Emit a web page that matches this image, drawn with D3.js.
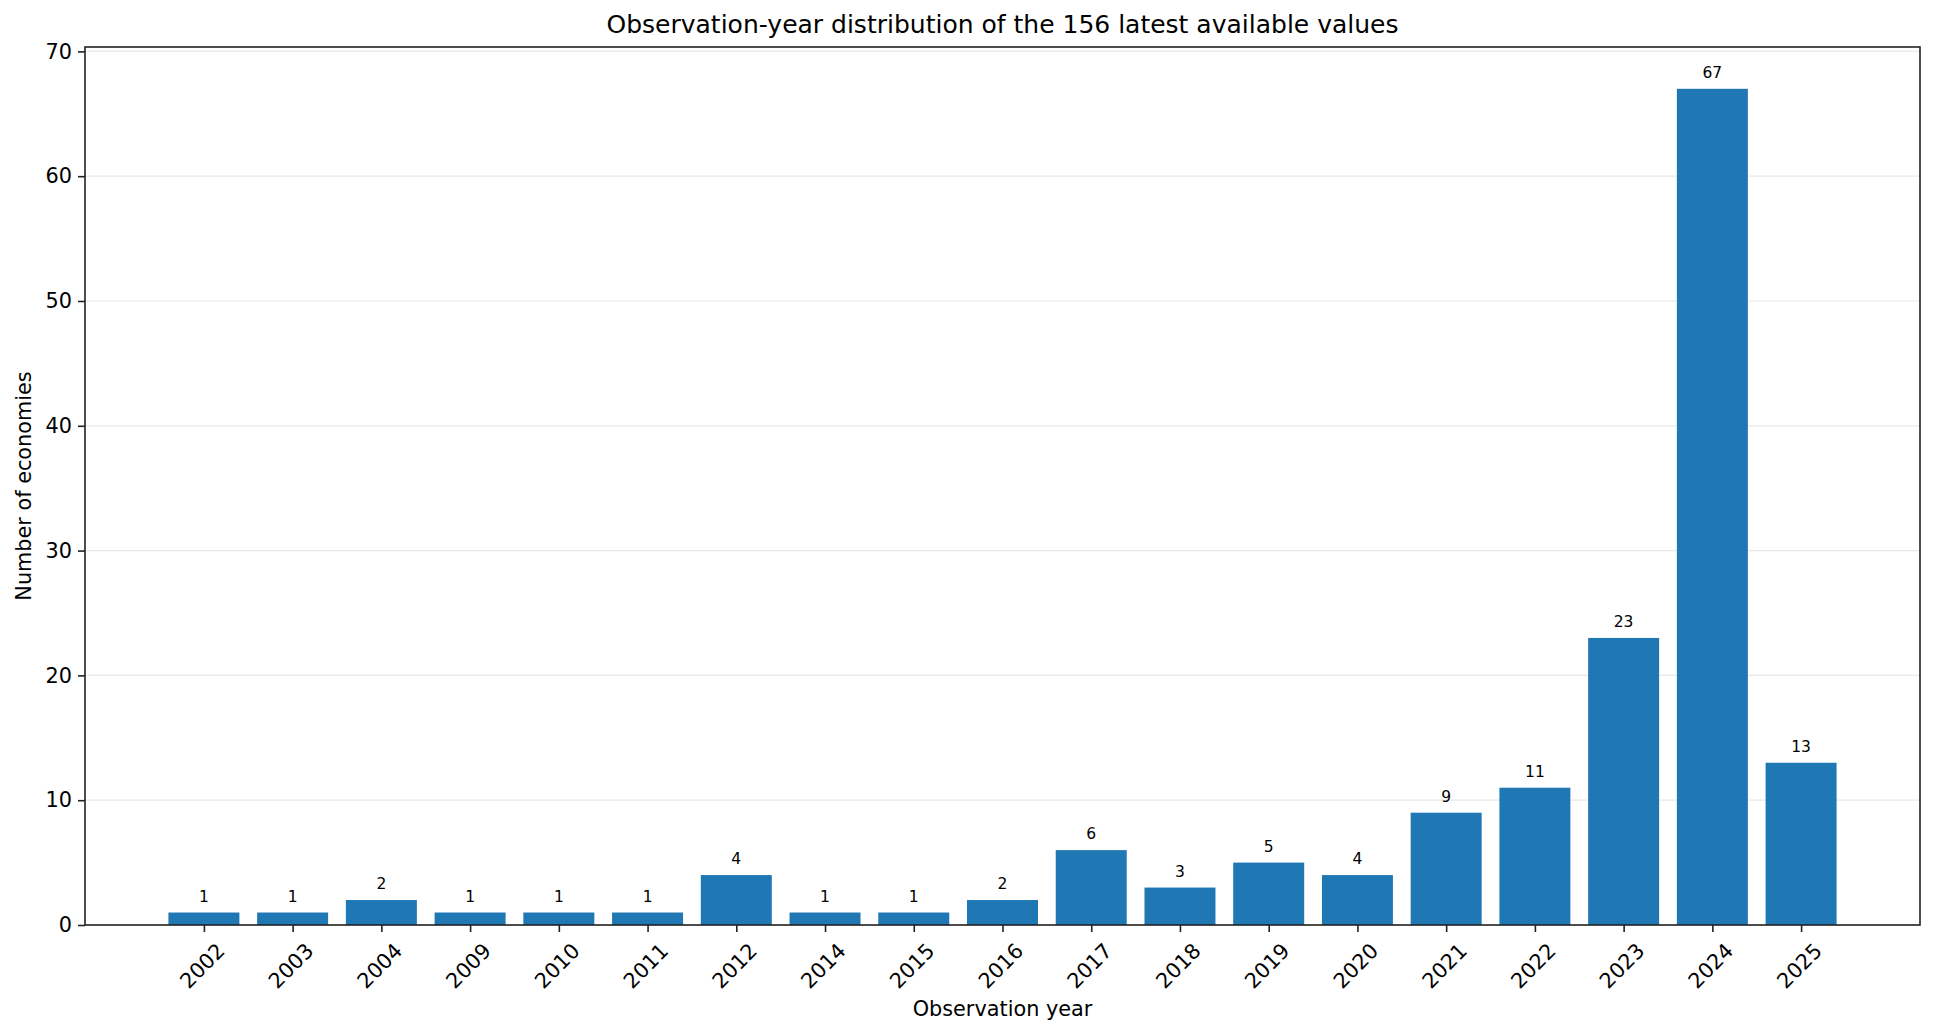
<!DOCTYPE html>
<html>
<head>
<meta charset="utf-8">
<script src="https://cdn.jsdelivr.net/npm/d3@7"></script>
<style>
  body { margin: 0; background: #fff; }
  text { font-family: "DejaVu Sans", sans-serif; fill: #000; }
</style>
</head>
<body>
<div id="chart"></div>
<script>
// data
const years = ["2002", "2003", "2004", "2009", "2010", "2011", "2012", "2014", "2015", "2016",
  "2017", "2018", "2019", "2020", "2021", "2022", "2023", "2024", "2025"];
const counts = [1, 1, 2, 1, 1, 1, 4, 1, 1, 2, 6, 3, 5, 4, 9, 11, 23, 67, 13];
const yTicks = [0, 10, 20, 30, 40, 50, 60, 70];

const svgWidth = 1935;
const svgHeight = 1035;
const margin = { top: 47, right: 15, bottom: 110, left: 85 };
const width = svgWidth - margin.left - margin.right;
const height = svgHeight - margin.top - margin.bottom;

const svg = d3.select("#chart")
  .append("svg")
  .attr("width", svgWidth)
  .attr("height", svgHeight);

const chartGroup = svg.append("g")
  .attr("transform", `translate(${margin.left}, ${margin.top})`);

// matplotlib-like x limits: bars of width 0.8 plus 5% margin
const n = years.length;
const span = (n - 1) + 0.8;
const xLinear = d3.scaleLinear()
  .domain([-0.4 - span * 0.05, n - 1 + 0.4 + span * 0.05])
  .range([0, width]);

const yLinear = d3.scaleLinear()
  .domain([0, d3.max(counts) * 1.05])
  .range([height, 0]);

// grid
chartGroup.append("g")
  .selectAll("line")
  .data(yTicks)
  .enter()
  .append("line")
  .attr("x1", 0)
  .attr("x2", width)
  .attr("y1", d => yLinear(d))
  .attr("y2", d => yLinear(d))
  .attr("stroke", "#e8e8e8")
  .attr("stroke-width", 1.2);

// bars
chartGroup.append("g")
  .selectAll("rect")
  .data(counts)
  .enter()
  .append("rect")
  .attr("x", (d, i) => xLinear(i - 0.4))
  .attr("width", xLinear(0.8) - xLinear(0))
  .attr("y", d => yLinear(d))
  .attr("height", d => height - yLinear(d))
  .attr("fill", "#1f77b4");

// value labels
chartGroup.append("g")
  .selectAll("text")
  .data(counts)
  .enter()
  .append("text")
  .attr("x", (d, i) => xLinear(i))
  .attr("y", d => yLinear(d) - 11)
  .attr("text-anchor", "middle")
  .style("font-size", "15.5px")
  .text(d => d);

// axes
const leftAxis = d3.axisLeft(yLinear)
  .tickValues(yTicks)
  .tickSize(7)
  .tickPadding(6);

const bottomAxis = d3.axisBottom(xLinear)
  .tickValues(d3.range(n))
  .tickFormat(i => years[i])
  .tickSize(7)
  .tickPadding(6);

const yAxis = chartGroup.append("g").call(leftAxis);
yAxis.select(".domain").remove();
yAxis.selectAll("text").style("font-size", "20.8px").attr("fill", "#000");
yAxis.selectAll("line").attr("stroke", "#222").attr("stroke-width", 1.6);

const xAxis = chartGroup.append("g")
  .attr("transform", `translate(0, ${height})`)
  .call(bottomAxis);
xAxis.select(".domain").remove();
xAxis.selectAll("line").attr("stroke", "#222").attr("stroke-width", 1.6);
xAxis.selectAll("text")
  .style("font-size", "20.8px")
  .attr("fill", "#000")
  .attr("y", 0)
  .attr("dy", 0)
  .attr("text-anchor", "middle")
  .attr("dominant-baseline", "central")
  .attr("transform", "translate(-2, 41) rotate(-45)");

// frame
chartGroup.append("rect")
  .attr("x", 0)
  .attr("y", 0)
  .attr("width", width)
  .attr("height", height)
  .attr("fill", "none")
  .attr("stroke", "#222")
  .attr("stroke-width", 1.6);

// title and labels
svg.append("text")
  .attr("x", margin.left + width / 2)
  .attr("y", 33)
  .attr("text-anchor", "middle")
  .style("font-size", "25px")
  .text("Observation-year distribution of the 156 latest available values");

svg.append("text")
  .attr("x", margin.left + width / 2)
  .attr("y", 1016)
  .attr("text-anchor", "middle")
  .style("font-size", "20.8px")
  .text("Observation year");

svg.append("text")
  .attr("transform", "rotate(-90)")
  .attr("x", -(margin.top + height / 2))
  .attr("y", 31)
  .attr("text-anchor", "middle")
  .style("font-size", "20.8px")
  .text("Number of economies");
</script>
</body>
</html>
